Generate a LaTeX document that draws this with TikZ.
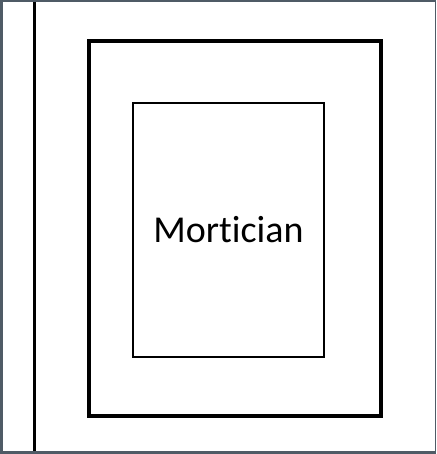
\documentclass[tikz,border=0pt]{standalone}
\usepackage{fontspec}
\setmainfont[Ligatures=NoCommon,Contextuals=NoAlternate]{Carlito}
\definecolor{frame}{HTML}{4F5B66}
\begin{document}
\begin{tikzpicture}[x=1pt,y=-1pt,
  outerbox/.style={draw=black,line width=3.2pt},
  innerbox/.style={draw=black,line width=1.4pt,minimum width=191pt,minimum height=254pt,inner sep=0pt},
  wall/.style={draw=black,line width=3pt}]
\useasboundingbox (0,0) rectangle (436,454);
\fill[frame] (0,0) rectangle (436,454);
\fill[white] (3.3,2) rectangle (435,451);
\coordinate (wtop) at (34.7,2);
\coordinate (wbot) at (34.7,451);
\draw[wall] (wtop) -- (wbot);
\draw[outerbox] (89,41) rectangle (381,416);
\node[innerbox] (mort) at (228.5,230) {};
\node (label) at (mort.center) {\fontsize{38}{42}\selectfont Mor{}tician};
\end{tikzpicture}
\end{document}
